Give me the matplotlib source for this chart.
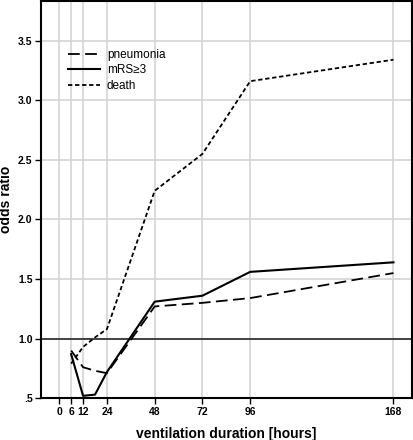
import matplotlib
matplotlib.use("Agg")
import matplotlib.pyplot as plt

plt.rcParams["font.family"] = ["Liberation Sans", "DejaVu Sans"]

# odds ratio by ventilation duration (hours)
hours = [6, 12, 18, 24, 48, 72, 96, 168]
pneumonia = [0.90, 0.76, 0.73, 0.71, 1.27, 1.30, 1.34, 1.55]
mrs3 = [0.87, 0.52, 0.53, 0.72, 1.31, 1.36, 1.56, 1.64]
death = [0.79, 0.93, 1.01, 1.08, 2.24, 2.55, 3.16, 3.34]

x_ticks = [0, 6, 12, 24, 48, 72, 96, 168]
y_ticks = [0.5, 1.0, 1.5, 2.0, 2.5, 3.0, 3.5]
y_labels = [".5", "1.0", "1.5", "2.0", "2.5", "3.0", "3.5"]

fig = plt.figure(figsize=(4.13, 4.40), dpi=100)
ax = fig.add_axes([0.099, 0.095, 0.898, 0.902])

for xv in x_ticks:
    ax.axvline(xv, color="#d4d4d4", lw=1.2, zorder=0)
for yv in y_ticks[2:]:
    ax.axhline(yv, color="#d4d4d4", lw=1.2, zorder=0)
ax.axhline(1.0, color="#333333", lw=1.3, zorder=1)

ax.plot(hours, pneumonia, color="black", lw=1.3, dashes=(6.5, 3), label="pneumonia")
ax.plot(hours, mrs3, color="black", lw=1.5, label="mRS\u22653")
ax.plot(hours, death, color="black", lw=1.3, dashes=(2.4, 1.5), label="death")

ax.set_xlim(-9.2, 177.2)
ax.set_ylim(0.5, 3.83)
ax.set_xticks(x_ticks)
ax.set_xticklabels([str(v) for v in x_ticks], fontsize=7.5, fontweight="bold")
ax.set_yticks(y_ticks)
ax.set_yticklabels(y_labels, fontsize=7.5, fontweight="bold")
ax.tick_params(direction="out", length=4, width=1, color="black", pad=2)

for s in ax.spines.values():
    s.set_linewidth(1.5)
    s.set_color("black")

ax.set_xlabel("ventilation duration [hours]", fontsize=10, fontweight="bold")
ax.xaxis.set_label_coords(0.5, -0.072)
ax.set_ylabel("odds ratio", fontsize=10, fontweight="bold")
ax.yaxis.set_label_coords(-0.076, 0.5)

leg = ax.legend(loc="upper left", bbox_to_anchor=(0.073, 0.88), frameon=False,
                borderaxespad=0, borderpad=0,
                fontsize=8.5, handlelength=2.7, handletextpad=0.6, labelspacing=0.3)

fig.savefig("out.png", dpi=100)
